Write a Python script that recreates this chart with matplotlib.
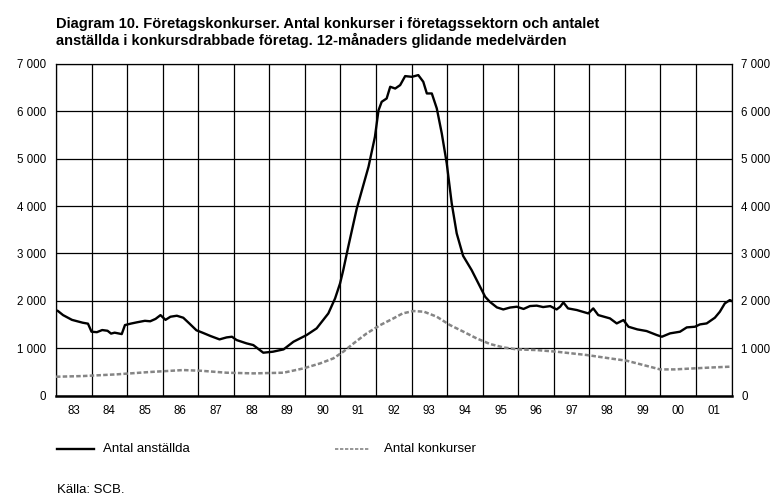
import numpy as np
import matplotlib
matplotlib.use("Agg")
import matplotlib.pyplot as plt
from matplotlib.lines import Line2D
from matplotlib import font_manager


def have(name):
    try:
        font_manager.findfont(name, fallback_to_default=False)
        return True
    except ValueError:
        return False


narrow = [f for f in ['Liberation Sans Narrow', 'DejaVu Sans Condensed'] if have(f)]
plt.rcParams['font.family'] = narrow + ['Liberation Sans', 'DejaVu Sans']

# Antal anställda i konkursdrabbade företag (12-mån glidande medel)
anst_t = [1983.0, 1983.05, 1983.2, 1983.45, 1983.75, 1983.9, 1984.0, 1984.15, 1984.3, 1984.45,
          1984.55, 1984.65, 1984.85, 1984.94, 1985.1, 1985.27, 1985.5, 1985.65, 1985.8, 1985.94,
          1986.08, 1986.22, 1986.4, 1986.58, 1986.75, 1986.95, 1987.12, 1987.35, 1987.6, 1987.8,
          1987.95, 1988.08, 1988.36, 1988.55, 1988.83, 1989.1, 1989.4, 1989.68, 1990.05, 1990.33,
          1990.66, 1990.85, 1990.99, 1991.08, 1991.22, 1991.46, 1991.79, 1991.97, 1992.07, 1992.16,
          1992.3, 1992.4, 1992.54, 1992.68, 1992.82, 1993.01, 1993.19, 1993.33, 1993.43, 1993.57,
          1993.71, 1993.85, 1993.99, 1994.13, 1994.27, 1994.45, 1994.69, 1994.88, 1995.07, 1995.2,
          1995.4, 1995.58, 1995.77, 1995.96, 1996.15, 1996.33, 1996.52, 1996.7, 1996.9, 1997.08,
          1997.18, 1997.27, 1997.4, 1997.65, 1997.97, 1998.11, 1998.25, 1998.58, 1998.77, 1998.96,
          1999.1, 1999.35, 1999.61, 1999.9, 2000.04, 2000.27, 2000.55, 2000.74, 2000.97, 2001.11,
          2001.3, 2001.53, 2001.67, 2001.81, 2001.95, 2002.0]
anst_v = [1800, 1790, 1700, 1600, 1540, 1520, 1350, 1340, 1385, 1370,
          1310, 1330, 1300, 1490, 1520, 1547, 1580, 1570, 1620, 1700,
          1600, 1666, 1687, 1645, 1525, 1380, 1330, 1258, 1188, 1230,
          1244, 1174, 1104, 1068, 907, 928, 977, 1139, 1280, 1420,
          1736, 2053, 2370, 2650, 3142, 3950, 4830, 5460, 6017, 6200,
          6270, 6517, 6480, 6552, 6742, 6727, 6763, 6622, 6376, 6376,
          6060, 5533, 4900, 4056, 3424, 2950, 2650, 2369, 2088, 1982,
          1863, 1820, 1860, 1877, 1830, 1891, 1900, 1870, 1890, 1820,
          1877, 1968, 1842, 1807, 1736, 1842, 1701, 1631, 1525, 1596,
          1455, 1399, 1364, 1279, 1244, 1315, 1350, 1441, 1455, 1504,
          1525, 1645, 1771, 1947, 2017, 2000]

# Antal konkurser
konk_t = [1983.0, 1983.77, 1984.7, 1985.64, 1986.58, 1987.1, 1987.8, 1988.55, 1989.4, 1989.96,
          1990.43, 1990.8, 1991.08, 1991.37, 1991.74, 1992.12, 1992.49, 1992.75, 1993.05, 1993.35,
          1993.71, 1994.08, 1994.46, 1994.83, 1995.21, 1995.58, 1995.96, 1996.52, 1997.08, 1997.93,
          1998.58, 1999.05, 1999.52, 1999.99, 2000.4, 2000.93, 2001.49, 2001.95, 2002.0]
konk_v = [400, 415, 450, 500, 541, 525, 485, 471, 485, 576,
          682, 787, 928, 1104, 1315, 1490, 1631, 1736, 1786, 1772,
          1666, 1490, 1350, 1209, 1090, 1019, 977, 963, 928, 858,
          787, 738, 647, 555, 555, 576, 597, 612, 615]

years = list(range(1983, 2002))
year_labels = ['83', '84', '85', '86', '87', '88', '89', '90', '91', '92',
               '93', '94', '95', '96', '97', '98', '99', '00', '01']
y_ticks = [0, 1000, 2000, 3000, 4000, 5000, 6000, 7000]
y_labels = ['0', '1 000', '2 000', '3 000', '4 000', '5 000', '6 000', '7 000']

fig = plt.figure(figsize=(7.73, 4.99), dpi=100)
ax = fig.add_axes([0.0724, 0.207, 0.874, 0.665])

ax.plot(konk_t, konk_v, color='#858585', lw=1.8, linestyle=(0, (1.8, 0.9)), zorder=3)
ax.plot(anst_t, anst_v, color='black', lw=1.7, zorder=4)

ax.set_xlim(1983, 2002)
ax.set_ylim(0, 7000)
ax.set_xticks(years + [2002])
ax.set_xticklabels([])
ax.set_xticks([y + 0.5 for y in years], minor=True)
ax.set_xticklabels(year_labels, minor=True)
ax.set_yticks(y_ticks)
ax.set_yticklabels(y_labels)
ax.tick_params(axis='both', which='both', length=0, labelsize=8.3)
ax.tick_params(axis='x', which='minor', pad=7)
ax.tick_params(axis='y', pad=7, labelright=True)
ax.grid(True, which='major', color='black', lw=0.9)
for s in ['left', 'right', 'top']:
    ax.spines[s].set_linewidth(0.9)
ax.spines['bottom'].set_linewidth(1.8)

title = fig.text(0.0724, 0.966,
                 'Diagram 10. Företagskonkurser. Antal konkurser i företagssektorn och antalet\n'
                 'anställda i konkursdrabbade företag. 12-månaders glidande medelvärden',
                 fontsize=10.5, fontweight='bold', va='top', ha='left', linespacing=1.15)
# shrink the title so its width matches the reference (about 605 px)
renderer = fig.canvas.get_renderer()
w = title.get_window_extent(renderer).width
if w > 610:
    title.set_fontsize(10.5 * 605 / w)

# legend
fig.add_artist(Line2D([0.074, 0.122], [0.1, 0.1], color='black', lw=1.7))
fig.text(0.133, 0.1, 'Antal anställda', fontsize=9.5, va='center')
fig.add_artist(Line2D([0.434, 0.477], [0.1, 0.1], color='#858585', lw=1.2, linestyle=(0, (2, 1))))
fig.text(0.497, 0.1, 'Antal konkurser', fontsize=9.5, va='center')
fig.text(0.074, 0.018, 'Källa: SCB.', fontsize=9.5, va='center')

fig.savefig('out.png', dpi=100)
